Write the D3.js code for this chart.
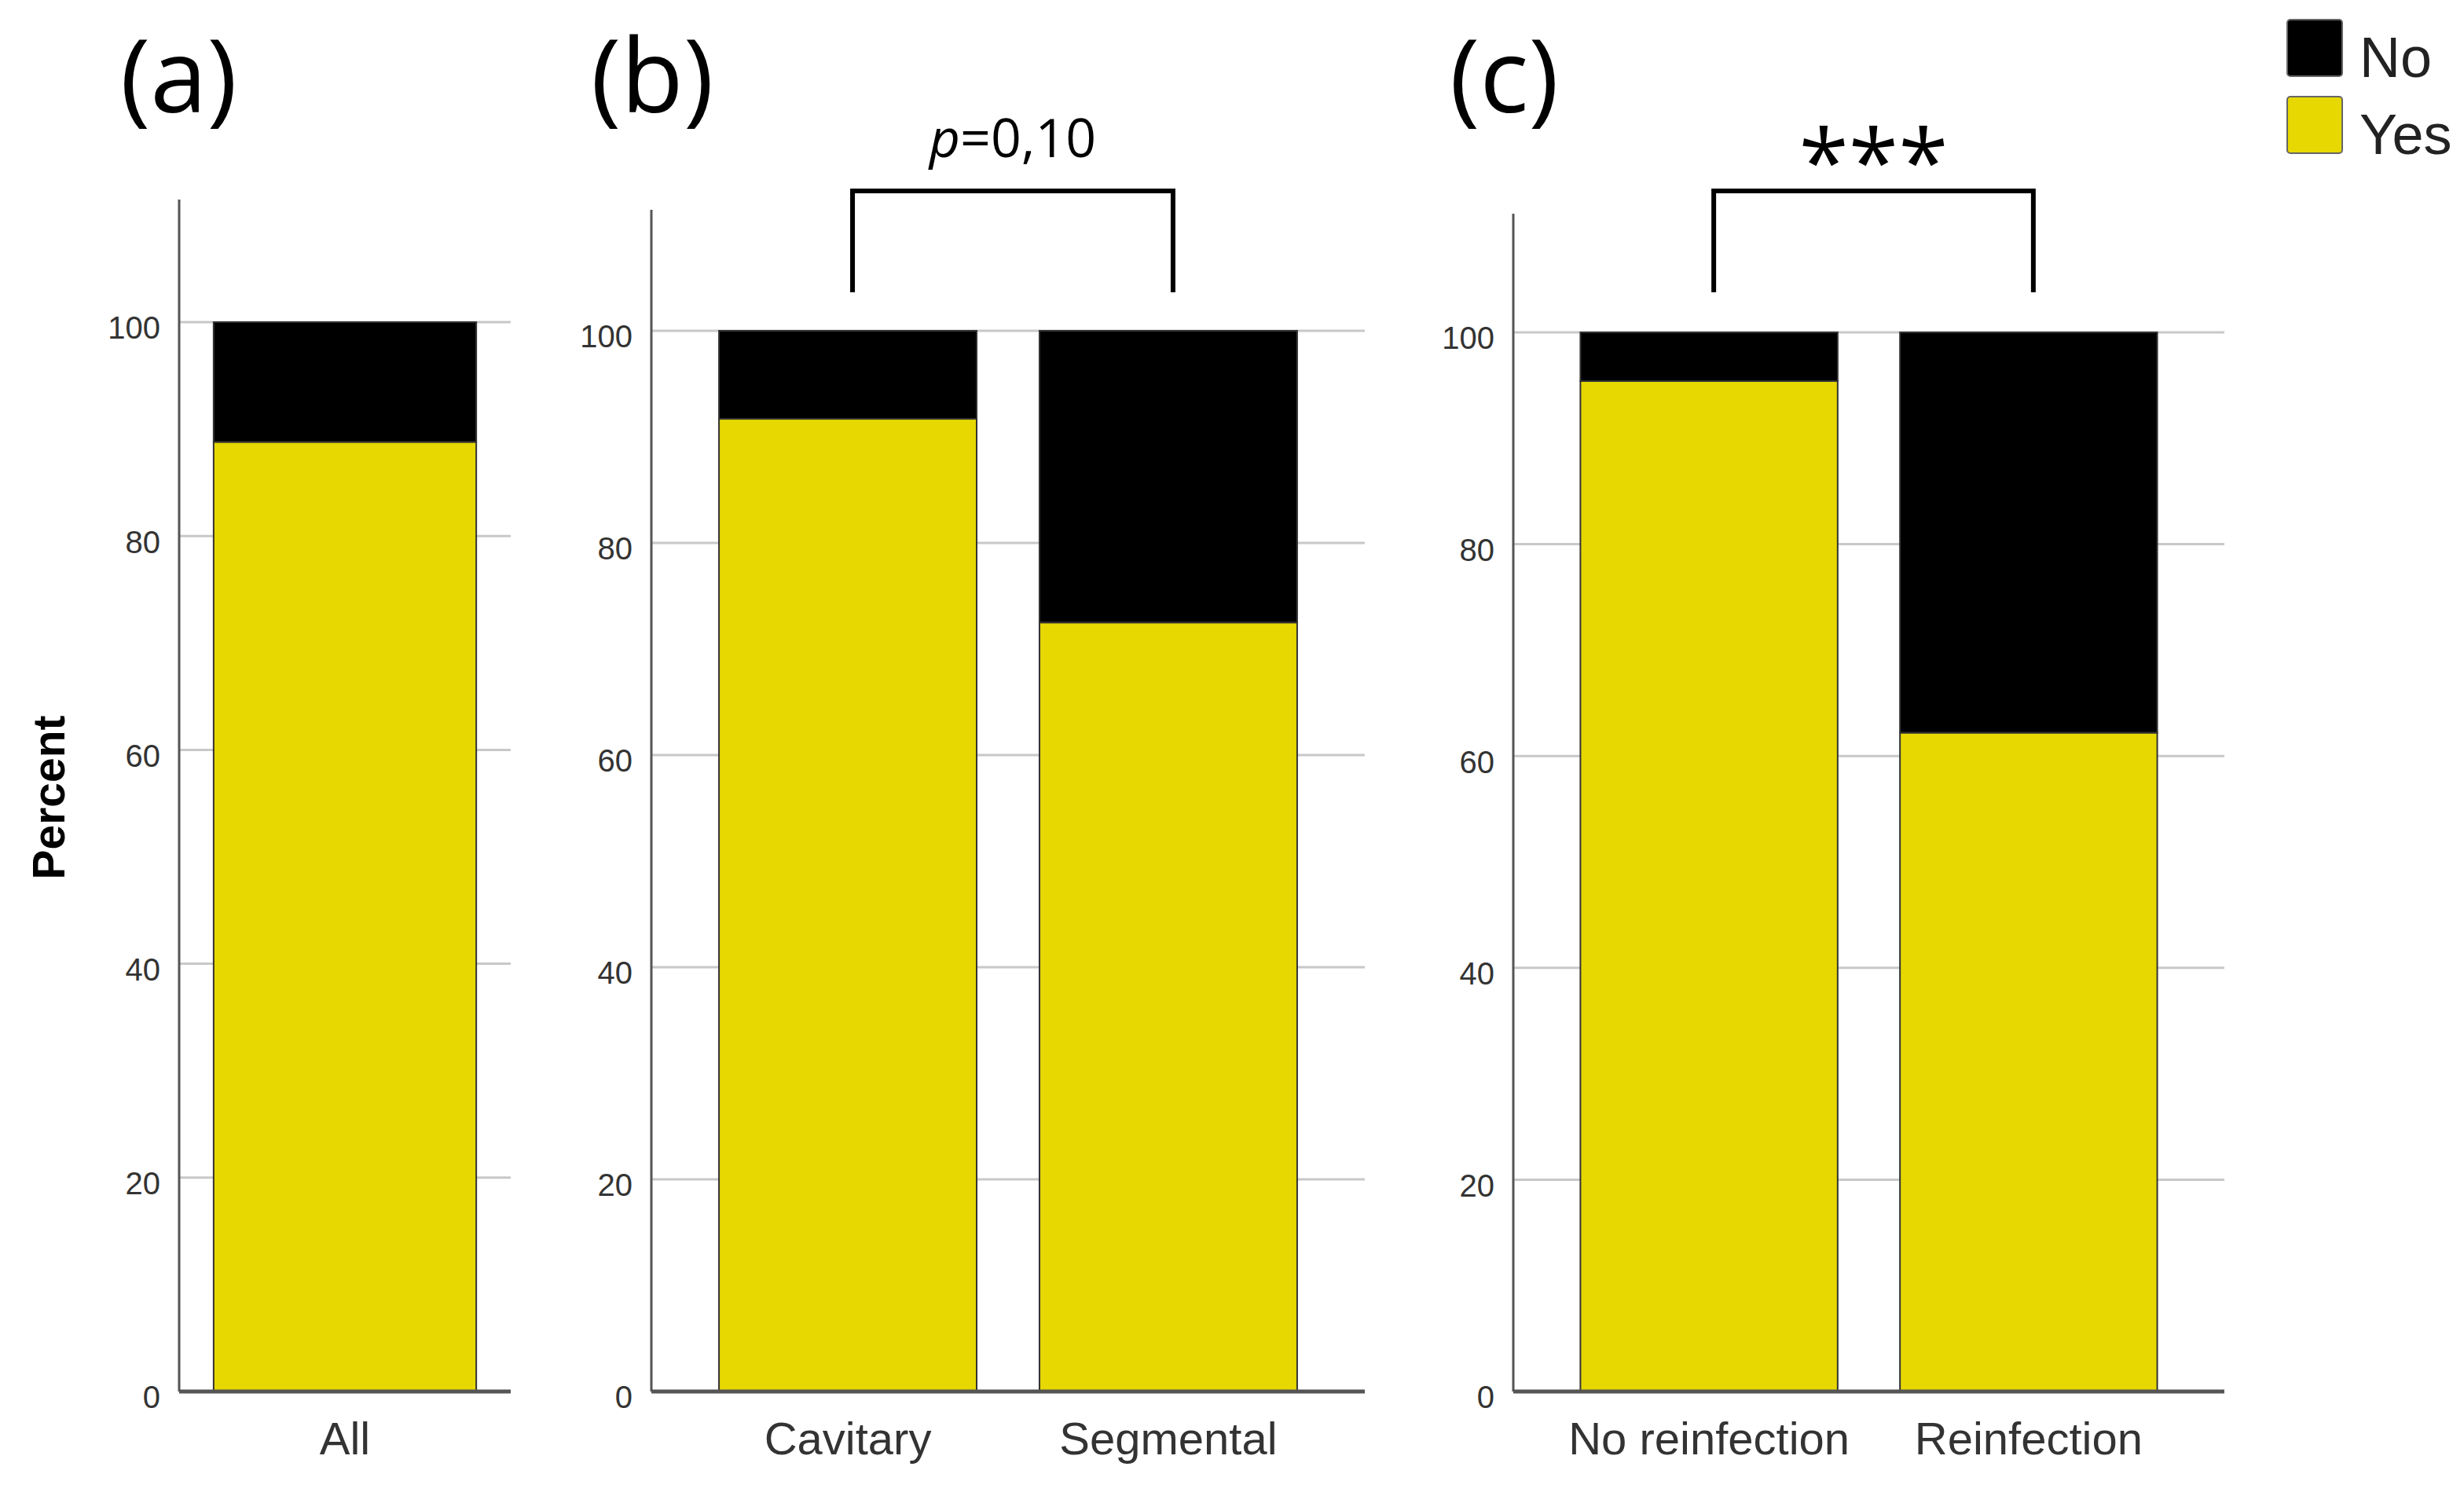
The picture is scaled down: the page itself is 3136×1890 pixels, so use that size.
<!DOCTYPE html>
<html>
<head>
<meta charset="utf-8">
<script src="https://cdn.jsdelivr.net/npm/d3@7"></script>
<style>
  body { margin: 0; background: #fff; }
  svg { display: block; }
</style>
</head>
<body>
<div id="chart"></div>
<script>
// values (percent of each group)
const panelLabels = ["(a)", "(b)", "(c)"];
const categoriesA = ["All"];
const categoriesB = ["Cavitary", "Segmental"];
const categoriesC = ["No reinfection", "Reinfection"];
const yesA = [88.8];
const noA = [11.2];
const yesB = [91.7, 72.5];
const noB = [8.3, 27.5];
const yesC = [95.4, 62.2];
const noC = [4.6, 37.8];
const tickValues = [0, 20, 40, 60, 80, 100];
const seriesNames = ["No", "Yes"];
const annotB = "0,10";
const annotC = "***";

const colors = { No: "#000000", Yes: "#e6d800" };

const W = 3136, H = 1890;
const zeroY = 1771;

// layout of the three panels (page pixels)
const layout = [
  { label: panelLabels[0], cats: categoriesA, yes: yesA, no: noA,
    axisX: 228, gridEnd: 650, top: 254, y100: 410, pi: 0.2, po: 0.105, labelX: 153 },
  { label: panelLabels[1], cats: categoriesB, yes: yesB, no: noB,
    axisX: 829, gridEnd: 1737, top: 267, y100: 421, pi: 0.196, po: 0.211, labelX: 752,
    bracket: true, annot: annotB },
  { label: panelLabels[2], cats: categoriesC, yes: yesC, no: noC,
    axisX: 1926, gridEnd: 2831, top: 272, y100: 423, pi: 0.195, po: 0.21, labelX: 1845,
    bracket: true, annot: annotC }
];

const svg = d3.select("#chart")
  .append("svg")
  .attr("width", W)
  .attr("height", H);

const sans = "'Liberation Sans', Arial, sans-serif";
const open = "'Open Sans', 'Noto Sans', sans-serif";

layout.forEach(p => {
  const g = svg.append("g");

  const x = d3.scaleBand()
    .domain(p.cats)
    .range([p.axisX, p.gridEnd])
    .paddingInner(p.pi)
    .paddingOuter(p.po);

  const y = d3.scaleLinear()
    .domain([0, 100])
    .range([zeroY, p.y100]);

  // gridlines + tick labels
  const axis = g.append("g")
    .attr("transform", `translate(${p.axisX},0)`)
    .call(d3.axisLeft(y).tickValues(tickValues).tickSize(0).tickPadding(24));
  axis.select(".domain").remove();
  axis.selectAll("text")
    .attr("dy", "0.52em")
    .style("font-family", sans)
    .style("font-size", "40px")
    .attr("fill", "#333");

  g.selectAll(".grid")
    .data(tickValues.filter(d => d > 0))
    .enter()
    .append("line")
      .attr("x1", p.axisX)
      .attr("x2", p.gridEnd)
      .attr("y1", d => y(d))
      .attr("y2", d => y(d))
      .attr("stroke", "#c8c8c8")
      .attr("stroke-width", 3);

  // stacked bars: Yes at the bottom, No on top
  const rows = p.cats.map((c, i) => ({ cat: c, yes: p.yes[i], no: p.no[i] }));

  g.selectAll(".yes")
    .data(rows)
    .enter()
    .append("rect")
      .attr("x", d => x(d.cat))
      .attr("y", d => y(d.yes))
      .attr("width", x.bandwidth())
      .attr("height", d => y(0) - y(d.yes))
      .attr("fill", colors.Yes)
      .attr("stroke", "#333")
      .attr("stroke-width", 2);

  g.selectAll(".no")
    .data(rows)
    .enter()
    .append("rect")
      .attr("x", d => x(d.cat))
      .attr("y", d => y(d.yes + d.no))
      .attr("width", x.bandwidth())
      .attr("height", d => y(d.yes) - y(d.yes + d.no))
      .attr("fill", colors.No)
      .attr("stroke", "#333")
      .attr("stroke-width", 2);

  // y axis line and the zero baseline
  g.append("line")
    .attr("x1", p.axisX).attr("x2", p.axisX)
    .attr("y1", p.top).attr("y2", zeroY)
    .attr("stroke", "#555")
    .attr("stroke-width", 3);
  g.append("line")
    .attr("x1", p.axisX).attr("x2", p.gridEnd)
    .attr("y1", zeroY).attr("y2", zeroY)
    .attr("stroke", "#555")
    .attr("stroke-width", 5);

  // category labels
  g.selectAll(".cat")
    .data(p.cats)
    .enter()
    .append("text")
      .attr("x", d => x(d) + x.bandwidth() / 2)
      .attr("y", 1851)
      .attr("text-anchor", "middle")
      .style("font-family", sans)
      .style("font-size", "58px")
      .attr("fill", "#333")
      .text(d => d);

  // panel letter
  g.append("text")
    .attr("x", p.labelX)
    .attr("y", 143)
    .style("font-family", open)
    .style("font-size", "130px")
    .attr("fill", "#000")
    .text(p.label);

  // significance bracket between the two bars
  if (p.bracket) {
    const x1 = x(p.cats[0]) + x.bandwidth() / 2 + 6;
    const x2 = x(p.cats[1]) + x.bandwidth() / 2 + 6;
    g.append("path")
      .attr("d", `M${x1},372 V243 H${x2} V372`)
      .attr("fill", "none")
      .attr("stroke", "#000")
      .attr("stroke-width", 6);

    const t = g.append("text")
      .attr("x", (x1 + x2) / 2)
      .attr("text-anchor", "middle")
      .style("font-family", open)
      .attr("fill", "#000");
    if (p.annot === annotC) {
      t.attr("y", 248)
        .style("font-size", "115px")
        .text(p.annot);
    } else {
      t.attr("y", 200)
        .style("font-size", "68px");
      t.append("tspan").style("font-style", "italic").text("p");
      t.append("tspan").text("=" + p.annot);
    }
  }
});

// Percent axis title
svg.append("text")
  .attr("transform", "translate(82,1015) rotate(-90)")
  .attr("text-anchor", "middle")
  .style("font-family", sans)
  .style("font-size", "57px")
  .style("font-weight", "bold")
  .attr("fill", "#000")
  .text("Percent");

// legend
const legend = svg.append("g")
  .attr("transform", "translate(2911,25)");

legend.selectAll("rect")
  .data(seriesNames)
  .enter()
  .append("rect")
    .attr("x", 0)
    .attr("y", (d, i) => i * 98)
    .attr("width", 70)
    .attr("height", 72)
    .attr("rx", 4)
    .attr("fill", d => colors[d])
    .attr("stroke", "#666")
    .attr("stroke-width", 2);

legend.selectAll("text")
  .data(seriesNames)
  .enter()
  .append("text")
    .attr("x", 92)
    .attr("y", (d, i) => 73 + i * 98)
    .style("font-family", sans)
    .style("font-size", "72px")
    .attr("fill", "#222")
    .text(d => d);
</script>
</body>
</html>
